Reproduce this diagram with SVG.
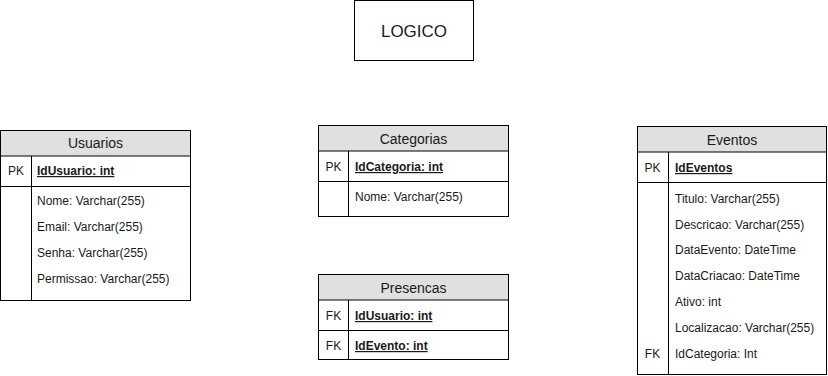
<svg xmlns="http://www.w3.org/2000/svg" width="828" height="376" viewBox="0 0 828 376">
  <style>
    .box { fill: #ffffff; stroke: #000000; stroke-width: 1; }
    .head { fill: #e0e0e0; stroke: #000000; stroke-width: 1; }
    .line { stroke: #000000; stroke-width: 1; fill: none; }
    text { font-family: "Liberation Sans", Arial, Helvetica, sans-serif; fill: #1a1a1a; }
    .title { font-size: 14px; text-anchor: middle; }
    .key { font-size: 12px; text-anchor: middle; }
    .fld { font-size: 12px; }
    .pk { font-size: 12px; font-weight: bold; text-decoration: underline; }
    .big { font-size: 17px; text-anchor: middle; }
  </style>
  <rect width="828" height="376" fill="#ffffff"/>

  <g id="logico">
    <rect class="box" x="354.5" y="0.5" width="119" height="60"/>
    <text class="big" x="414" y="37">LOGICO</text>
  </g>

  <g id="usuarios">
    <rect class="box" x="0.5" y="130.5" width="190" height="170"/>
    <rect class="head" x="0.5" y="130.5" width="190" height="25.5"/>
    <line class="line" x1="0.5" y1="186.5" x2="190.5" y2="186.5"/>
    <line class="line" x1="31.5" y1="156" x2="31.5" y2="300.5"/>
    <text class="title" x="95.5" y="148">Usuarios</text>
    <text class="key" x="16" y="175">PK</text>
    <text class="pk" x="37" y="175">IdUsuario: int</text>
    <text class="fld" x="37" y="205">Nome: Varchar(255)</text>
    <text class="fld" x="37" y="231">Email: Varchar(255)</text>
    <text class="fld" x="37" y="257">Senha: Varchar(255)</text>
    <text class="fld" x="37" y="283">Permissao: Varchar(255)</text>
  </g>

  <g id="categorias">
    <rect class="box" x="318.5" y="125.5" width="190" height="91"/>
    <rect class="head" x="318.5" y="125.5" width="190" height="25.5"/>
    <line class="line" x1="318.5" y1="181.5" x2="508.5" y2="181.5"/>
    <line class="line" x1="348.5" y1="151" x2="348.5" y2="216.5"/>
    <text class="title" x="413.5" y="144">Categorias</text>
    <text class="key" x="333.5" y="171">PK</text>
    <text class="pk" x="355" y="171">IdCategoria: int</text>
    <text class="fld" x="355" y="201">Nome: Varchar(255)</text>
  </g>

  <g id="presencas">
    <rect class="box" x="318.5" y="274.5" width="190" height="85"/>
    <rect class="head" x="318.5" y="274.5" width="190" height="25.5"/>
    <line class="line" x1="318.5" y1="330.5" x2="508.5" y2="330.5"/>
    <line class="line" x1="348.5" y1="300" x2="348.5" y2="359.5"/>
    <text class="title" x="413.5" y="293">Presencas</text>
    <text class="key" x="333.5" y="320">FK</text>
    <text class="pk" x="355" y="320">IdUsuario: int</text>
    <text class="key" x="333.5" y="350">FK</text>
    <text class="pk" x="355" y="350">IdEvento: int</text>
  </g>

  <g id="eventos">
    <rect class="box" x="637.5" y="126.5" width="189" height="248"/>
    <rect class="head" x="637.5" y="126.5" width="189" height="25.5"/>
    <line class="line" x1="637.5" y1="182.5" x2="826.5" y2="182.5"/>
    <line class="line" x1="668.5" y1="152" x2="668.5" y2="374.5"/>
    <text class="title" x="732" y="145">Eventos</text>
    <text class="key" x="652.5" y="172">PK</text>
    <text class="pk" x="675" y="172">IdEventos</text>
    <text class="fld" x="675" y="203">Titulo: Varchar(255)</text>
    <text class="fld" x="675" y="229">Descricao: Varchar(255)</text>
    <text class="fld" x="675" y="254">DataEvento: DateTime</text>
    <text class="fld" x="675" y="280">DataCriacao: DateTime</text>
    <text class="fld" x="675" y="306">Ativo: int</text>
    <text class="fld" x="675" y="332">Localizacao: Varchar(255)</text>
    <text class="key" x="652.5" y="358">FK</text>
    <text class="fld" x="675" y="358">IdCategoria: Int</text>
  </g>

  <g id="connectors"></g>
</svg>
